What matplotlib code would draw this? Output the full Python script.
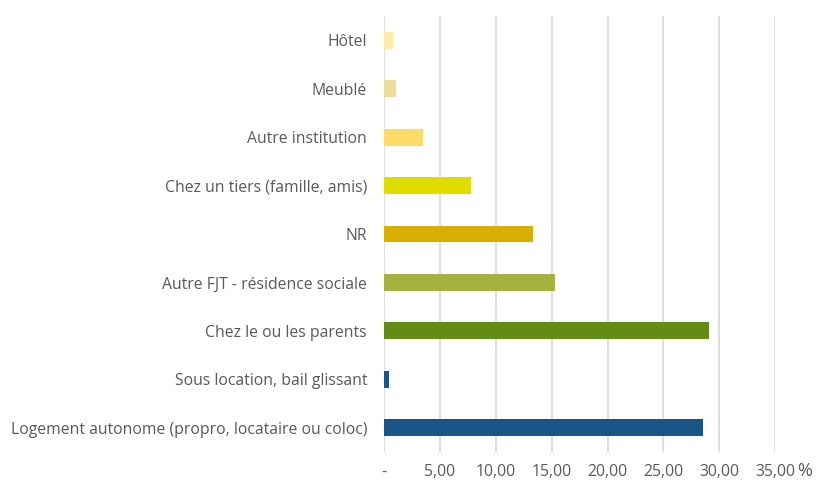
import matplotlib.pyplot as plt
import numpy as np

# bottom to top
categories = [
    "Logement autonome (propro, locataire ou coloc)",
    "Sous location, bail glissant",
    "Chez le ou les parents",
    "Autre FJT - résidence sociale",
    "NR",
    "Chez un tiers (famille, amis)",
    "Autre institution",
    "Meublé",
    "Hôtel",
]
values = [28.55, 0.47, 29.1, 15.3, 13.3, 7.83, 3.54, 1.13, 0.86]
colors = [
    "#1A5589", "#1A5589", "#638C14", "#A5B23F", "#D8AE00",
    "#E0DC00", "#FFDB69", "#ECDC98", "#FFEBA8",
]
tick_values = [0, 5, 10, 15, 20, 25, 30, 35]
tick_labels = ["-", "5,00", "10,00", "15,00", "20,00", "25,00", "30,00", "35,00"]

plt.rcParams["font.family"] = ["Open Sans", "DejaVu Sans"]
text_color = "#595959"

fig = plt.figure(figsize=(8.16, 4.83), dpi=100)
ax = fig.add_axes([383.7 / 816, 1 - 452 / 483, (775.4 - 383.7) / 816, (452 - 16) / 483])

y = np.arange(len(categories))
ax.barh(y, values, height=0.35, color=colors, zorder=3)

ax.set_xlim(0, 35)
ax.set_ylim(-0.5, len(categories) - 0.5)
ax.set_xticks(tick_values)
ax.set_xticklabels(tick_labels)
ax.set_yticks(y)
ax.set_yticklabels(categories)
ax.tick_params(axis="both", length=0, labelsize=11.3, colors=text_color)
ax.tick_params(axis="y", pad=12)
ax.tick_params(axis="x", pad=9)
ax.grid(axis="x", color="#D9D9D9", linewidth=1.2, zorder=0)
for side in ["top", "right", "bottom", "left"]:
    ax.spines[side].set_visible(False)

fig.text(797 / 816, 1 - 471 / 483, "%", fontsize=13, color=text_color,
         ha="left", va="center")

fig.savefig("out.png", dpi=100)
